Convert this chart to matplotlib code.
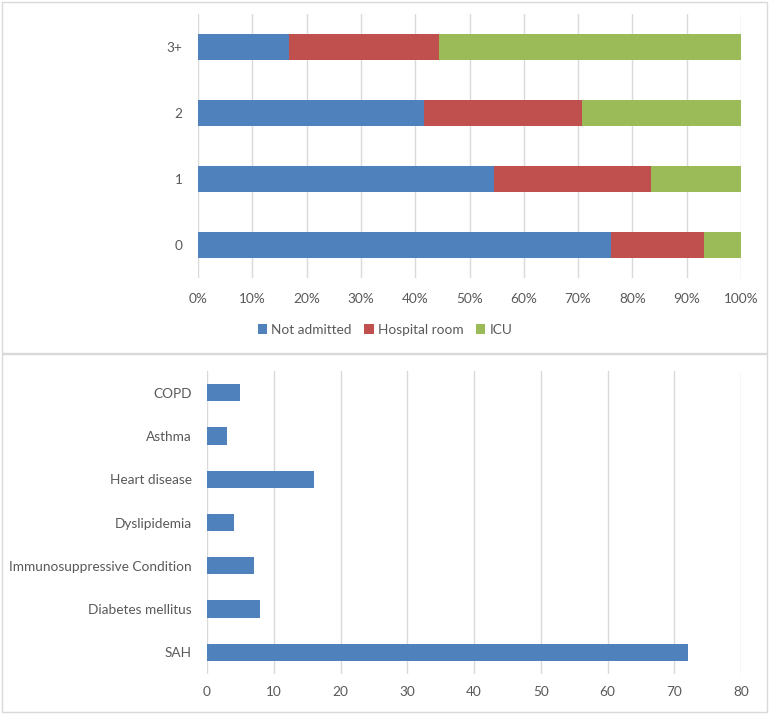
import matplotlib
matplotlib.use("Agg")
import matplotlib.pyplot as plt
from matplotlib.patches import Rectangle
from matplotlib.ticker import PercentFormatter

# ---- data ----
groups = ["0", "1", "2", "3+"]
not_admitted = [76.1, 54.5, 41.6, 16.7]
hospital_room = [17.0, 28.9, 29.2, 27.7]
icu = [6.9, 16.6, 29.2, 55.6]
series_names = ["Not admitted", "Hospital room", "ICU"]

conditions = ["SAH", "Diabetes mellitus", "Immunosuppressive Condition",
              "Dyslipidemia", "Heart disease", "Asthma", "COPD"]
counts = [72, 8, 7, 4, 16, 3, 5]

blue, red, green = "#4F81BD", "#C0504D", "#9BBB59"
txt = "#595959"
grid = "#D9D9D9"

plt.rcParams['font.family'] = ['Lato', 'DejaVu Sans']
W, H = 770, 715
fig = plt.figure(figsize=(W / 100, H / 100), dpi=100)

def fx(px):
    return px / W

def fy(py):
    return 1 - py / H

# panel borders
for (x0, y0, x1, y1) in [(2, 2, 767, 353), (2, 354, 767, 712)]:
    fig.patches.append(Rectangle((fx(x0), fy(y1)), fx(x1 - x0), (y1 - y0) / H,
                                 transform=fig.transFigure, fill=False,
                                 edgecolor=grid, linewidth=1))

# ---- top chart ----
ax1 = fig.add_axes([fx(198), fy(278), fx(741 - 198), (278 - 14) / H])
y = range(len(groups))
left = [0] * len(groups)
handles = []
for vals, col, name in zip([not_admitted, hospital_room, icu], [blue, red, green], series_names):
    b = ax1.barh(y, vals, left=left, height=0.4, color=col, label=name, zorder=3)
    handles.append(b)
    left = [l + v for l, v in zip(left, vals)]
ax1.set_xlim(0, 100)
ax1.set_ylim(-0.5, len(groups) - 0.5)
ax1.set_xticks(range(0, 101, 10))
ax1.xaxis.set_major_formatter(PercentFormatter(decimals=0))
ax1.set_yticks(list(y))
ax1.set_yticklabels(groups)

# ---- bottom chart ----
ax2 = fig.add_axes([fx(207), fy(674), fx(741 - 207), (674 - 371) / H])
ax2.barh(range(len(conditions)), counts, height=0.4, color=blue, zorder=3)
ax2.set_xlim(0, 80)
ax2.set_ylim(-0.5, len(conditions) - 0.5)
ax2.set_xticks(range(0, 81, 10))
ax2.set_yticks(range(len(conditions)))
ax2.set_yticklabels(conditions)

for ax in (ax1, ax2):
    for s in ax.spines.values():
        s.set_visible(False)
    ax.grid(axis='x', color=grid, linewidth=1, zorder=0)
    ax.tick_params(length=0, labelsize=9.8, labelcolor=txt)
    ax.tick_params(axis='y', pad=11)
ax1.tick_params(axis='x', pad=11)
ax2.tick_params(axis='x', pad=9)

fig.legend(handles=handles, labels=series_names, loc='center',
           bbox_to_anchor=(0.5, fy(330)), ncol=3, frameon=False,
           fontsize=9.8, labelcolor=txt, handlelength=0.7, handleheight=0.7,
           handletextpad=0.3, columnspacing=0.9)

fig.savefig("out.png", dpi=100)
